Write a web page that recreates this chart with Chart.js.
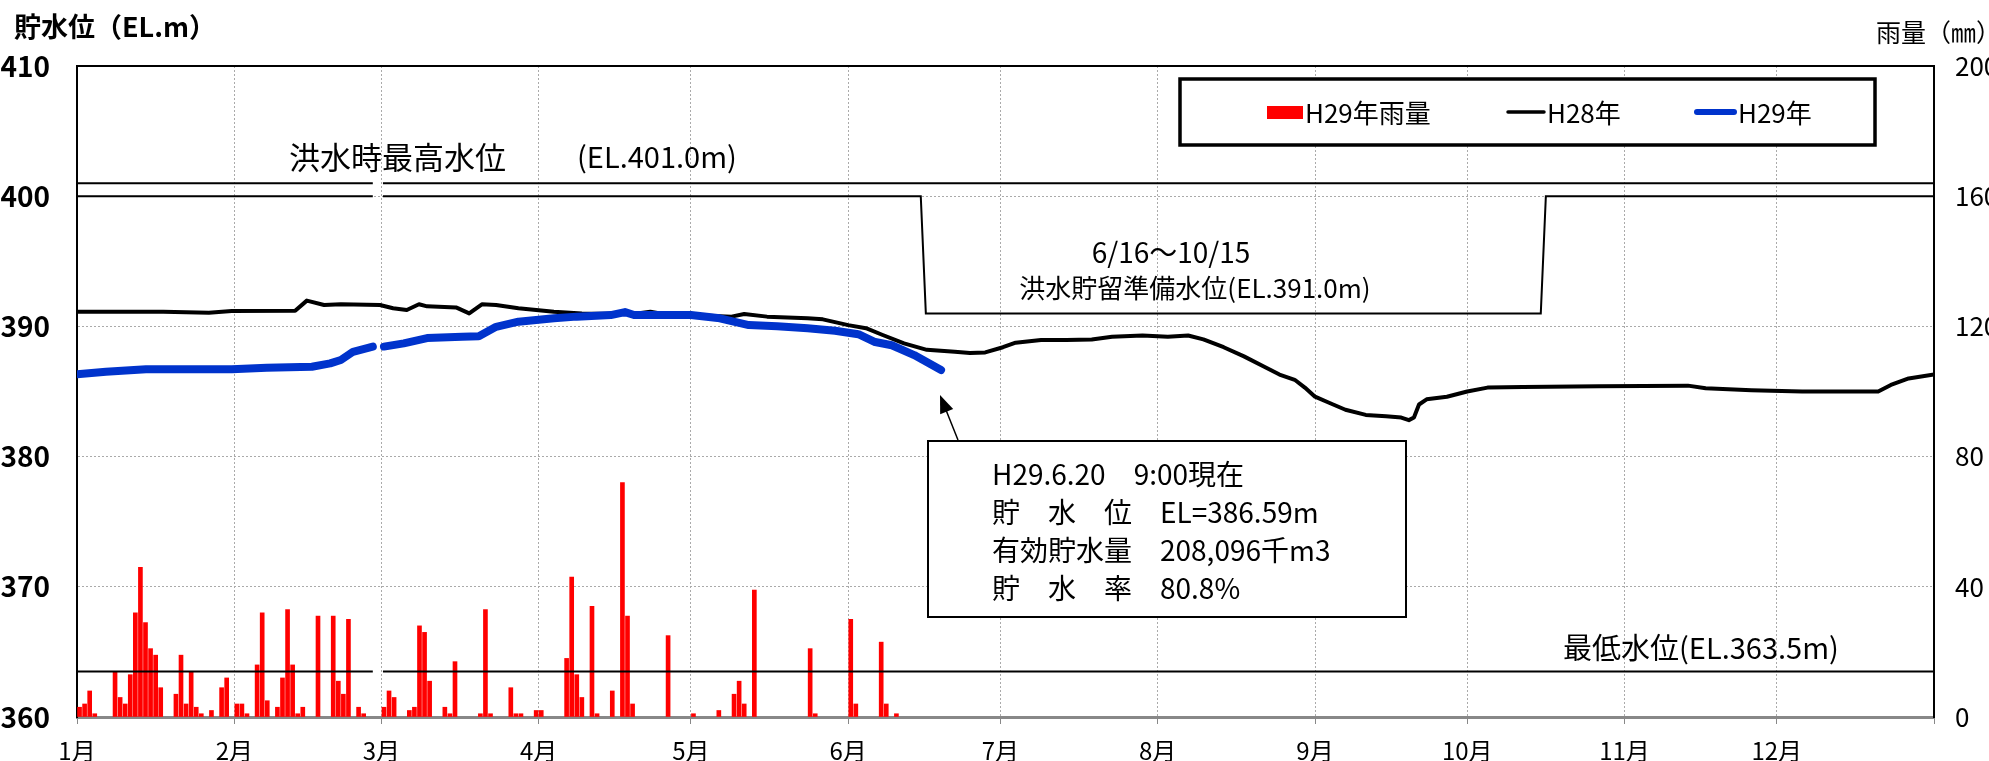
<!DOCTYPE html>
<html lang="ja">
<head>
<meta charset="utf-8">
<title>貯水位グラフ</title>
<script src="https://cdn.jsdelivr.net/npm/chart.js@4.4.1/dist/chart.umd.min.js"></script>
<style>
    html, body { margin: 0; padding: 0; background: #ffffff; }
    #wrap { width: 1989px; height: 761px; }
</style>
</head>
<body>
<div id="wrap"><canvas id="damChart"></canvas></div>
<script>
// ===================================
// DATA
// x values are day numbers from 1/1 (leap-year calendar, 2/29 = day 59)
// ===================================

// Month ticks
const MONTH_LABELS = ['1月', '2月', '3月', '4月', '5月', '6月', '7月', '8月', '9月', '10月', '11月', '12月'];
const MONTH_START_DAYS = [0, 31, 60, 91, 121, 152, 182, 213, 244, 274, 305, 335, 366];

// Axis ticks
const LEVEL_TICKS = [360, 370, 380, 390, 400, 410];
const RAIN_TICKS = [0, 40, 80, 120, 160, 200];

// H29 daily rainfall (mm)
const RAIN_DAYS = [0, 1, 2, 3, 7, 8, 9, 10, 11, 12, 13, 14, 15, 16, 19, 20, 21, 22, 23, 24, 26, 28, 29,
    31, 32, 33, 35, 36, 37, 39, 40, 41, 42, 43, 44, 47, 50, 51, 52, 53, 55, 56,
    60, 61, 62, 65, 66, 67, 68, 69, 72, 73, 74, 79, 80, 81, 85, 86, 87,
    90, 91, 96, 97, 98, 99, 101, 102, 105, 107, 108, 109, 116,
    121, 126, 129, 130, 131, 133, 144, 145, 152, 153, 158, 159, 161];
const RAIN_MM = [3, 4, 8, 1, 14, 6, 4, 13, 32, 46, 29, 21, 19, 9, 7, 19, 4, 14, 3, 1, 2, 9, 12,
    4, 4, 1, 16, 32, 5, 3, 12, 33, 16, 1, 3, 31, 31, 11, 7, 30, 3, 1,
    3, 8, 6, 2, 3, 28, 26, 11, 3, 1, 17, 1, 33, 1, 9, 1, 1,
    2, 2, 18, 43, 13, 6, 34, 1, 8, 72, 31, 4, 25,
    1, 2, 7, 11, 4, 39, 21, 1, 30, 4, 23, 4, 1];

// H28 water level (EL.m)
const H28_DAYS = [0, 17, 26, 30.5, 43, 45.3, 48.7, 52, 59.7, 62.3, 65, 67.4, 69, 74.7, 77.3, 79.8, 82.6,
    87, 94, 99.5, 109.7, 113, 115.5, 121, 129, 131.5, 136, 144, 147, 152, 155.5, 158.8, 163,
    167.5, 173, 176, 179, 182.5, 185, 190, 195, 200, 204, 210, 215, 219, 222, 226, 230, 234,
    237, 240, 242, 244, 247, 250, 254, 258, 261, 262.5, 263.5, 264.5, 266, 270, 274, 278,
    285, 300, 317.5, 321, 330, 340, 355, 357.5, 361, 366];
const H28_LEVEL = [391.13, 391.13, 391.05, 391.18, 391.2, 391.98, 391.64, 391.7, 391.64, 391.39, 391.26, 391.7, 391.54, 391.46, 391.0, 391.7, 391.64,
    391.39, 391.13, 391.0, 390.95, 391.13, 390.95, 390.87, 390.75, 390.95, 390.75, 390.62, 390.54, 390.1, 389.86, 389.34, 388.7,
    388.2, 388.05, 387.95, 388.0, 388.4, 388.75, 388.95, 388.95, 389.0, 389.2, 389.3, 389.2, 389.3, 389.0, 388.4, 387.7, 386.9,
    386.3, 385.9, 385.3, 384.6, 384.1, 383.6, 383.2, 383.1, 383.0, 382.8, 383.0, 384.0, 384.4, 384.6, 385.0, 385.3,
    385.35, 385.4, 385.45, 385.25, 385.1, 385.0, 385.0, 385.5, 386.0, 386.3];

// H29 water level (EL.m) - no data for 2/29
const H29_DAYS = [0, 5.7, 13.6, 30.5, 37.4, 46.3, 49.9, 52, 54.4, 58.3, 59.4, 60.5, 64.4, 69, 75.9, 79.2,
    82.6, 87, 94, 98.5, 105.2, 108, 109.8, 115.5, 121, 126.7, 132.4, 138, 144, 149.4, 154,
    157.3, 160.6, 165, 170.3];
const H29_LEVEL = [386.32, 386.52, 386.7, 386.7, 386.83, 386.9, 387.16, 387.42, 388.05, 388.45, null, 388.45, 388.7, 389.1, 389.2, 389.25,
    389.97, 390.36, 390.62, 390.75, 390.87, 391.1, 390.87, 390.87, 390.87, 390.62, 390.1, 390.02, 389.86, 389.67, 389.4,
    388.8, 388.55, 387.8, 386.65];

// Reference levels
const FLOOD_MAX_DAYS = [0, 58.3, 59.3, 60.3, 366];
const FLOOD_MAX_LEVEL = [401, 401, null, 401, 401];

const NORMAL_MAX_DAYS = [0, 58.3, 59.3, 60.3, 166.3, 167.3, 288.5, 289.5, 366];
const NORMAL_MAX_LEVEL = [400, 400, null, 400, 400, 391, 391, 400, 400];

const MIN_LEVEL_DAYS = [0, 58.3, 59.3, 60.3, 366];
const MIN_LEVEL_LEVEL = [363.5, 363.5, null, 363.5, 363.5];

// ===================================
// Helpers
// ===================================
const FONT = "'Liberation Sans Narrow', 'Noto Sans CJK JP', sans-serif";
const BLUE = '#0033cc';

function toPoints(days, values) {
    return days.map(function (d, i) {
        return { x: d, y: values[i] };
    });
}

function drawText(ctx, text, x, y, size, align, weight) {
    ctx.save();
    ctx.font = (weight || 'normal') + ' ' + size + 'px ' + FONT;
    ctx.fillStyle = '#000000';
    ctx.textAlign = align || 'left';
    ctx.textBaseline = 'middle';
    ctx.fillText(text, x, y);
    ctx.restore();
}

// ===================================
// Plugin: frame, titles, legend and notes
// ===================================
const decorPlugin = {
    id: 'damDecor',
    afterDraw(chart) {
        const ctx = chart.ctx;
        const area = chart.chartArea;

        // top frame line
        ctx.save();
        ctx.strokeStyle = '#000000';
        ctx.lineWidth = 2;
        ctx.beginPath();
        ctx.moveTo(area.left, area.top);
        ctx.lineTo(area.right, area.top);
        ctx.stroke();
        ctx.restore();

        // axis titles
        drawText(ctx, '貯水位（EL.m）', 14, 27, 27, 'left', 'bold');
        drawText(ctx, '雨量（㎜）', 1876, 32, 25, 'left');

        // legend box
        ctx.save();
        ctx.fillStyle = '#ffffff';
        ctx.fillRect(1180, 79, 695, 66);
        ctx.strokeStyle = '#000000';
        ctx.lineWidth = 3.5;
        ctx.strokeRect(1180, 79, 695, 66);
        ctx.fillStyle = '#ff0000';
        ctx.fillRect(1267, 106, 36, 13);
        ctx.lineCap = 'round';
        ctx.strokeStyle = '#000000';
        ctx.lineWidth = 3.5;
        ctx.beginPath();
        ctx.moveTo(1508, 112);
        ctx.lineTo(1544, 112);
        ctx.stroke();
        ctx.strokeStyle = BLUE;
        ctx.lineWidth = 6;
        ctx.beginPath();
        ctx.moveTo(1697, 112);
        ctx.lineTo(1734, 112);
        ctx.stroke();
        ctx.restore();
        drawText(ctx, 'H29年雨量', 1305, 113, 26);
        drawText(ctx, 'H28年', 1547, 113, 26);
        drawText(ctx, 'H29年', 1738, 113, 26);

        // level notes
        drawText(ctx, '洪水時最高水位', 289, 157, 31);
        drawText(ctx, '(EL.401.0m)', 577, 157, 29);
        drawText(ctx, '6/16〜10/15', 1171, 252, 28, 'center');
        drawText(ctx, '洪水貯留準備水位(EL.391.0m)', 1195, 288, 26, 'center');
        drawText(ctx, '最低水位(EL.363.5m)', 1563, 648, 29);

        // current status box
        ctx.save();
        ctx.fillStyle = '#ffffff';
        ctx.fillRect(928, 441, 478, 176);
        ctx.strokeStyle = '#000000';
        ctx.lineWidth = 2;
        ctx.strokeRect(928, 441, 478, 176);

        // arrow to latest point
        const tipX = 940, tipY = 395, fromX = 958, fromY = 440;
        const ang = Math.atan2(tipY - fromY, tipX - fromX);
        ctx.lineWidth = 1.5;
        ctx.beginPath();
        ctx.moveTo(fromX, fromY);
        ctx.lineTo(tipX - 14 * Math.cos(ang), tipY - 14 * Math.sin(ang));
        ctx.stroke();
        ctx.fillStyle = '#000000';
        ctx.beginPath();
        ctx.moveTo(tipX, tipY);
        ctx.lineTo(tipX - 18 * Math.cos(ang) + 7 * Math.sin(ang), tipY - 18 * Math.sin(ang) - 7 * Math.cos(ang));
        ctx.lineTo(tipX - 18 * Math.cos(ang) - 7 * Math.sin(ang), tipY - 18 * Math.sin(ang) + 7 * Math.cos(ang));
        ctx.closePath();
        ctx.fill();
        ctx.restore();

        drawText(ctx, 'H29.6.20　9:00現在', 992, 474, 28);
        drawText(ctx, '貯　水　位　EL=386.59m', 992, 512, 28);
        drawText(ctx, '有効貯水量　208,096千m3', 992, 550, 28);
        drawText(ctx, '貯　水　率　80.8%', 992, 588, 28);
    }
};

// ===================================
// Build chart
// ===================================
function initDamChart() {
    const ctx = document.getElementById('damChart').getContext('2d');

    new Chart(ctx, {
        type: 'bar',
        data: {
            datasets: [
                {
                    type: 'line',
                    label: 'H29年',
                    data: toPoints(H29_DAYS, H29_LEVEL),
                    borderColor: BLUE,
                    borderWidth: 8,
                    borderCapStyle: 'round',
                    borderJoinStyle: 'round',
                    pointRadius: 0,
                    spanGaps: false,
                    yAxisID: 'y',
                    order: 0
                },
                {
                    type: 'line',
                    label: 'H28年',
                    data: toPoints(H28_DAYS, H28_LEVEL),
                    borderColor: '#000000',
                    borderWidth: 4,
                    borderJoinStyle: 'round',
                    pointRadius: 0,
                    yAxisID: 'y',
                    order: 1
                },
                {
                    type: 'line',
                    label: '洪水時最高水位',
                    data: toPoints(FLOOD_MAX_DAYS, FLOOD_MAX_LEVEL),
                    borderColor: '#000000',
                    borderWidth: 2,
                    pointRadius: 0,
                    spanGaps: false,
                    yAxisID: 'y',
                    order: 2
                },
                {
                    type: 'line',
                    label: '常時満水位',
                    data: toPoints(NORMAL_MAX_DAYS, NORMAL_MAX_LEVEL),
                    borderColor: '#000000',
                    borderWidth: 2,
                    pointRadius: 0,
                    spanGaps: false,
                    yAxisID: 'y',
                    order: 2
                },
                {
                    type: 'line',
                    label: '最低水位',
                    data: toPoints(MIN_LEVEL_DAYS, MIN_LEVEL_LEVEL),
                    borderColor: '#000000',
                    borderWidth: 2,
                    pointRadius: 0,
                    spanGaps: false,
                    yAxisID: 'y',
                    order: 2
                },
                {
                    type: 'bar',
                    label: 'H29年雨量',
                    data: toPoints(RAIN_DAYS.map(function (d) { return d + 0.5; }), RAIN_MM),
                    backgroundColor: '#ff0000',
                    barThickness: 4,
                    yAxisID: 'y2',
                    order: 3
                }
            ]
        },
        options: {
            responsive: true,
            maintainAspectRatio: false,
            animation: false,
            layout: { padding: { top: 66, left: 0, right: 0, bottom: 0 } },
            plugins: {
                legend: { display: false },
                tooltip: { enabled: false },
                title: { display: false }
            },
            scales: {
                x: {
                    type: 'linear',
                    offset: false,
                    min: 0,
                    max: 366,
                    afterBuildTicks: function (scale) {
                        scale.ticks = MONTH_START_DAYS.map(function (v) { return { value: v }; });
                    },
                    afterFit: function (scale) { scale.height = 44; },
                    ticks: {
                        autoSkip: false,
                        maxRotation: 0,
                        padding: 12,
                        color: '#000000',
                        font: { family: FONT, size: 24 },
                        callback: function (value) {
                            const i = MONTH_START_DAYS.indexOf(value);
                            return MONTH_LABELS[i] || '';
                        }
                    },
                    grid: {
                        offset: false,
                        color: '#aaaaaa',
                        lineWidth: 1,
                        tickLength: 7,
                        tickColor: '#888888'
                    },
                    border: { display: true, color: '#888888', width: 3, dash: [2, 2] }
                },
                y: {
                    position: 'left',
                    min: 360,
                    max: 410,
                    afterBuildTicks: function (scale) {
                        scale.ticks = LEVEL_TICKS.map(function (v) { return { value: v }; });
                    },
                    afterFit: function (scale) { scale.width = 77; },
                    ticks: {
                        padding: 27,
                        color: '#000000',
                        font: { family: FONT, size: 28, weight: 'bold' }
                    },
                    grid: { color: '#aaaaaa', lineWidth: 1, drawTicks: false },
                    border: { display: true, color: '#000000', width: 2, dash: [2, 2] }
                },
                y2: {
                    position: 'right',
                    min: 0,
                    max: 200,
                    afterBuildTicks: function (scale) {
                        scale.ticks = RAIN_TICKS.map(function (v) { return { value: v }; });
                    },
                    afterFit: function (scale) { scale.width = 55; },
                    ticks: {
                        padding: 21,
                        color: '#000000',
                        font: { family: FONT, size: 26 }
                    },
                    grid: { drawOnChartArea: false, drawTicks: false },
                    border: { display: true, color: '#000000', width: 2 }
                }
            }
        },
        plugins: [decorPlugin]
    });
}

initDamChart();
</script>
</body>
</html>
